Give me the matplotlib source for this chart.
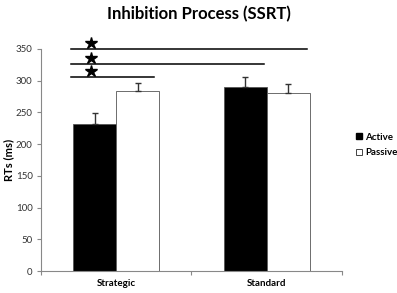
import numpy as np
import matplotlib
matplotlib.use("Agg")
import matplotlib.pyplot as plt
from matplotlib.lines import Line2D

plt.rcParams['font.family'] = ['Lato', 'DejaVu Sans']

categories = ['Strategic', 'Standard']
active = [231, 290]
passive = [284, 280]
active_err = [18, 16]
passive_err = [12, 15]

# significance lines: (x start, x end, y), stars drawn above each
sig_lines = [(0.2, 1.77, 350), (0.2, 1.48, 326), (0.2, 0.75, 305)]
star_x = 0.33

fig = plt.figure(figsize=(3.97, 2.93), dpi=100)
ax = fig.add_axes([0.103, 0.075, 0.758, 0.758])

x = np.arange(len(categories)) + 0.5
w = 0.286
ax.bar(x - w / 2, active, w, color='black', edgecolor='#555555', linewidth=0.6,
       yerr=[[0] * 2, active_err], error_kw=dict(ecolor='#333333', capsize=2.5, elinewidth=1, capthick=1),
       zorder=2)
ax.bar(x + w / 2, passive, w, color='white', edgecolor='#555555', linewidth=0.6,
       yerr=[[0] * 2, passive_err], error_kw=dict(ecolor='#333333', capsize=2.5, elinewidth=1, capthick=1),
       zorder=2)

for x0, x1, y in sig_lines:
    ax.plot([x0, x1], [y, y], color='black', lw=1.1, clip_on=False, zorder=3)
    ax.plot(star_x, y + 10, marker='*', color='black', ms=9, clip_on=False, zorder=3)

ax.set_xlim(0, 2)
ax.set_ylim(0, 350)
ax.set_yticks(range(0, 351, 50))
ax.set_xticks([0, 1, 2])
ax.set_xticklabels([])
ax.set_xticks(x, minor=True)
ax.set_xticklabels(categories, minor=True, fontsize=7, fontweight='bold')
ax.tick_params(axis='x', which='minor', length=0, pad=6)
ax.tick_params(axis='x', which='major', length=3, color='#888888')
ax.tick_params(axis='y', length=3, color='#888888', labelsize=7, labelcolor='#333333', pad=3)

for s in ['top', 'right']:
    ax.spines[s].set_visible(False)
for s in ['left', 'bottom']:
    ax.spines[s].set_color('#888888')
    ax.spines[s].set_linewidth(0.8)

ax.set_ylabel('RTs (ms)', fontsize=8, fontweight='bold')
ax.yaxis.set_label_coords(-0.088, 0.5)
fig.suptitle('Inhibition Process (SSRT)', fontsize=12, fontweight='bold', x=0.5, y=0.98)

handles = [Line2D([], [], marker='s', ls='', mfc='black', mec='black', ms=5),
           Line2D([], [], marker='s', ls='', mfc='white', mec='#444444', ms=5, mew=0.7)]
fig.legend(handles, ['Active', 'Passive'], loc='center left', bbox_to_anchor=(0.875, 0.505),
           frameon=False, handlelength=0.6, handletextpad=0.3, labelspacing=0.7,
           prop={'weight': 'bold', 'size': 7})

fig.savefig('out.png', dpi=100)
